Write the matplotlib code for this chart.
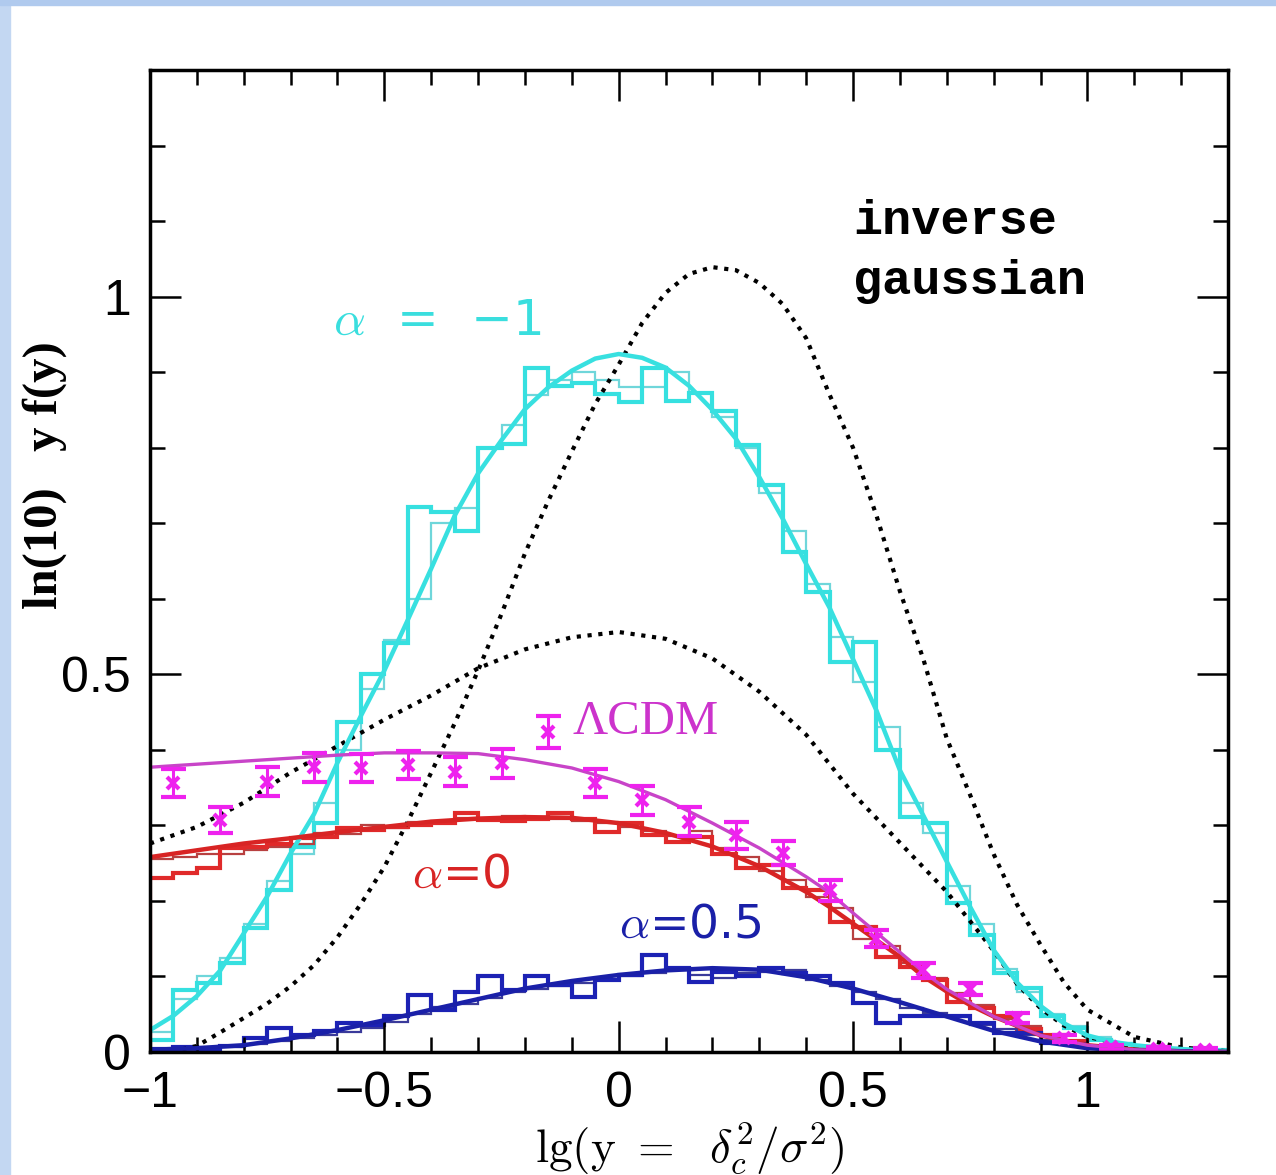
import numpy as np
import matplotlib
matplotlib.use("Agg")
import matplotlib.pyplot as plt
from matplotlib.patches import Rectangle
from matplotlib.ticker import MultipleLocator

plt.rcParams['mathtext.fontset'] = 'cm'

# histogram bins (0.05 wide) from -1 to 1.3
bin_edges = np.round(np.arange(-1.0, 1.3001, 0.05), 3)

# alpha = -1 (cyan)
cyan_thick = [0.016, 0.082, 0.091, 0.118, 0.164, 0.214, 0.271, 0.303, 0.437, 0.50,
              0.541, 0.721, 0.715, 0.690, 0.799, 0.805, 0.906, 0.882, 0.885, 0.871,
              0.860, 0.906, 0.862, 0.872, 0.849, 0.803, 0.750, 0.662, 0.609, 0.516,
              0.543, 0.40, 0.311, 0.303, 0.197, 0.155, 0.104, 0.085, 0.047, 0.032,
              0.016, 0.010, 0.006, 0.004, 0.003, 0.002]
cyan_thin = [0.027, 0.07, 0.10, 0.125, 0.17, 0.226, 0.262, 0.33, 0.40, 0.48,
             0.545, 0.60, 0.70, 0.72, 0.80, 0.83, 0.87, 0.89, 0.90, 0.89,
             0.88, 0.88, 0.90, 0.872, 0.84, 0.80, 0.74, 0.69, 0.62, 0.55,
             0.49, 0.43, 0.33, 0.29, 0.22, 0.17, 0.11, 0.08, 0.05, 0.034,
             0.02, 0.012, 0.008, 0.005, 0.003, 0.002]
cyan_x = [-1.0, -0.95, -0.9, -0.85, -0.8, -0.75, -0.7, -0.65, -0.6, -0.55, -0.5, -0.45,
          -0.4, -0.35, -0.3, -0.25, -0.2, -0.15, -0.1, -0.05, 0.0, 0.05, 0.1, 0.15,
          0.2, 0.25, 0.3, 0.35, 0.4, 0.45, 0.5, 0.55, 0.6, 0.65, 0.7, 0.75, 0.8,
          0.85, 0.9, 0.95, 1.0, 1.05, 1.1, 1.15, 1.2, 1.25, 1.3]
cyan_y = [0.029, 0.048, 0.074, 0.108, 0.157, 0.206, 0.263, 0.315, 0.383, 0.445, 0.505, 0.572,
          0.64, 0.71, 0.766, 0.81, 0.851, 0.88, 0.902, 0.918, 0.924, 0.919, 0.906, 0.882,
          0.85, 0.812, 0.761, 0.706, 0.646, 0.588, 0.52, 0.452, 0.373, 0.313, 0.252, 0.192, 0.135,
          0.092, 0.061, 0.038, 0.022, 0.014, 0.009, 0.006, 0.004, 0.002, 0.001]

# alpha = 0 (red)
red_thick = [0.230, 0.237, 0.243, 0.270, 0.272, 0.276, 0.283, 0.285, 0.296, 0.294,
             0.298, 0.301, 0.303, 0.316, 0.307, 0.306, 0.309, 0.317, 0.309, 0.291,
             0.303, 0.287, 0.278, 0.285, 0.262, 0.243, 0.247, 0.217, 0.214, 0.172,
             0.165, 0.126, 0.113, 0.095, 0.066, 0.058, 0.047, 0.030, 0.022, 0.014,
             0.008, 0.004, 0.002, 0.001, 0.001, 0.0]
red_thin = [0.256, 0.258, 0.262, 0.262, 0.268, 0.272, 0.276, 0.290, 0.288, 0.300,
            0.296, 0.304, 0.306, 0.310, 0.308, 0.312, 0.311, 0.308, 0.306, 0.303,
            0.298, 0.293, 0.286, 0.292, 0.270, 0.258, 0.240, 0.228, 0.205, 0.190,
            0.150, 0.140, 0.118, 0.098, 0.078, 0.062, 0.044, 0.034, 0.020, 0.014,
            0.007, 0.004, 0.002, 0.001, 0.0, 0.0]
red_x = [-1.0, -0.9, -0.8, -0.7, -0.6, -0.5, -0.4, -0.3, -0.2, -0.1, 0.0, 0.1, 0.2,
         0.3, 0.4, 0.45, 0.5, 0.55, 0.6, 0.65, 0.7, 0.75, 0.8, 0.9, 1.0, 1.1, 1.2, 1.3]
red_y = [0.258, 0.267, 0.276, 0.283, 0.291, 0.298, 0.305, 0.309, 0.311, 0.310, 0.303, 0.29, 0.272,
         0.246, 0.212, 0.192, 0.17, 0.148, 0.126, 0.10, 0.08, 0.062, 0.047, 0.022, 0.009, 0.003, 0.001, 0.0]

# alpha = 0.5 (blue)
blue_thick = [0.004, 0.006, 0.004, 0.008, 0.018, 0.032, 0.022, 0.028, 0.038, 0.036,
              0.047, 0.075, 0.056, 0.080, 0.100, 0.082, 0.100, 0.089, 0.073, 0.095,
              0.102, 0.128, 0.111, 0.093, 0.106, 0.100, 0.111, 0.104, 0.100, 0.091,
              0.065, 0.038, 0.047, 0.047, 0.047, 0.038, 0.025, 0.025, 0.012, 0.010,
              0.005, 0.003, 0.002, 0.001, 0.001, 0.0]
blue_thin = [0.002, 0.003, 0.006, 0.007, 0.010, 0.014, 0.018, 0.022, 0.027, 0.032,
             0.040, 0.050, 0.060, 0.064, 0.072, 0.080, 0.084, 0.088, 0.092, 0.096,
             0.100, 0.104, 0.108, 0.102, 0.098, 0.104, 0.106, 0.108, 0.095, 0.088,
             0.080, 0.070, 0.058, 0.052, 0.046, 0.036, 0.030, 0.022, 0.016, 0.010,
             0.006, 0.003, 0.002, 0.001, 0.0, 0.0]
blue_x = [-1.0, -0.9, -0.8, -0.7, -0.6, -0.5, -0.4, -0.3, -0.2, -0.1, 0.0, 0.1, 0.2,
          0.3, 0.4, 0.5, 0.6, 0.7, 0.8, 0.9, 1.0, 1.1, 1.2, 1.3]
blue_y = [0.003, 0.005, 0.009, 0.018, 0.029, 0.042, 0.056, 0.070, 0.084, 0.094, 0.102, 0.108, 0.111,
          0.109, 0.099, 0.084, 0.066, 0.047, 0.028, 0.014, 0.005, 0.002, 0.001, 0.0]

# LambdaCDM (magenta)
lcdm_x = [-1.0, -0.9, -0.8, -0.7, -0.6, -0.5, -0.4, -0.3, -0.2, -0.1, 0.0, 0.1, 0.2, 0.3,
          0.4, 0.45, 0.5, 0.55, 0.6, 0.65, 0.7, 0.8, 0.9, 1.0, 1.1, 1.2, 1.3]
lcdm_y = [0.377, 0.381, 0.385, 0.389, 0.393, 0.396, 0.396, 0.395, 0.387, 0.376, 0.358, 0.334,
          0.303, 0.27, 0.232, 0.211, 0.184, 0.158, 0.132, 0.106, 0.083, 0.047, 0.022, 0.009,
          0.003, 0.001, 0.0]
pts_x = [-0.95, -0.85, -0.75, -0.65, -0.55, -0.45, -0.35, -0.25, -0.05, 0.05, 0.15,
         0.25, 0.35, 0.45, 0.55, 0.65, 0.75, 0.85, 0.95, 1.05, 1.15, 1.25]
pts_y = [0.356, 0.307, 0.358, 0.377, 0.376, 0.380, 0.371, 0.382, 0.356, 0.333, 0.305,
         0.287, 0.263, 0.214, 0.150, 0.108, 0.084, 0.045, 0.018, 0.006, 0.004, 0.003]
pts_err = [0.018, 0.017, 0.019, 0.019, 0.019, 0.019, 0.019, 0.019, 0.019, 0.019, 0.019,
           0.018, 0.016, 0.014, 0.011, 0.010, 0.008, 0.007, 0.005, 0.003, 0.002, 0.002]

# inverse gaussian (dotted)
ig1_x = [-1.0, -0.95, -0.9, -0.85, -0.8, -0.75, -0.7, -0.65, -0.6, -0.55, -0.5, -0.45, -0.4,
         -0.35, -0.3, -0.25, -0.2, -0.15, -0.1, -0.05, 0.0, 0.05, 0.1, 0.15, 0.2, 0.25, 0.3,
         0.35, 0.4, 0.45, 0.5, 0.55, 0.6, 0.65, 0.7, 0.75, 0.8, 0.85, 0.9, 0.95, 1.0, 1.1,
         1.2, 1.3]
ig1_y = [0.0, 0.001, 0.008, 0.026, 0.045, 0.064, 0.087, 0.115, 0.152, 0.196, 0.245, 0.305,
         0.37, 0.435, 0.505, 0.58, 0.66, 0.73, 0.795, 0.858, 0.91, 0.965, 1.005, 1.03, 1.039,
         1.035, 1.018, 0.99, 0.945, 0.87, 0.80, 0.71, 0.61, 0.52, 0.415, 0.34, 0.262, 0.195,
         0.142, 0.092, 0.056, 0.020, 0.006, 0.001]
ig2_x = [-1.0, -0.9, -0.8, -0.7, -0.6, -0.5, -0.4, -0.3, -0.2, -0.1, 0.0, 0.1, 0.2, 0.3,
         0.4, 0.5, 0.6, 0.7, 0.8, 0.85, 0.9, 0.95, 1.0, 1.1, 1.2, 1.3]
ig2_y = [0.276, 0.298, 0.33, 0.37, 0.405, 0.44, 0.472, 0.508, 0.533, 0.549, 0.556, 0.547,
         0.521, 0.477, 0.42, 0.342, 0.277, 0.212, 0.134, 0.09, 0.058, 0.035, 0.020, 0.007,
         0.002, 0.0]

x_ticks = [-1, -0.5, 0, 0.5, 1]
x_ticklabels = ['\u22121', '\u22120.5', '0', '0.5', '1']
y_ticks = [0, 0.5, 1]
y_ticklabels = ['0', '0.5', '1']

fig = plt.figure(figsize=(12.76, 11.75), dpi=100)
fig.patch.set_facecolor('white')
# light blue frame of the slide
fig.patches.append(Rectangle((0, 0), 10 / 1276, 1, transform=fig.transFigure,
                             color='#c3d7f2', zorder=0))
fig.patches.append(Rectangle((0, 1 - 5 / 1175), 1, 5 / 1175, transform=fig.transFigure,
                             color='#b0caee', zorder=0))

ax = fig.add_axes([150 / 1276, 1 - 1052 / 1175, 1078 / 1276, 982 / 1175])

ax.plot(ig1_x, ig1_y, color='black', ls=(0, (1, 1.6)), lw=3)
ax.plot(ig2_x, ig2_y, color='black', ls=(0, (1, 1.6)), lw=3)

ax.stairs(cyan_thin, bin_edges, color='#6fd6da', lw=1.6)
ax.stairs(cyan_thick, bin_edges, color='#36e0e0', lw=3)
ax.stairs(red_thin, bin_edges, color='#b84040', lw=1.6)
ax.stairs(red_thick, bin_edges, color='#e02a2a', lw=3)
ax.stairs(blue_thin, bin_edges, color='#3a3a9a', lw=1.6)
ax.stairs(blue_thick, bin_edges, color='#1c22b4', lw=3)

ax.plot(cyan_x, cyan_y, color='#38e0e0', lw=3.2)
ax.plot(red_x, red_y, color='#d82424', lw=3.2)
ax.plot(blue_x, blue_y, color='#1a20a8', lw=3.2)
ax.plot(lcdm_x, lcdm_y, color='#c844c8', lw=2.4)
ax.errorbar(pts_x, pts_y, yerr=pts_err, fmt='x', color='#ee22ee', ms=8, mew=3,
            elinewidth=2.2, capsize=9, capthick=2.2)
# legend symbol for LambdaCDM
ax.errorbar([-0.15], [0.424], yerr=[0.021], fmt='x', color='#ee22ee', ms=8, mew=3,
            elinewidth=2.2, capsize=9, capthick=2.2)

ax.text(-0.098, 0.437, '\u039bCDM', color='#cc33cc', fontsize=35,
        family='Liberation Serif', va='center', ha='left')
ax.text(-0.61, 0.968, '$\\alpha$  =  \u22121', color='#3adede', fontsize=36,
        family='DejaVu Sans', va='center', ha='left')
ax.text(-0.44, 0.234, '$\\alpha$=0', color='#d82424', fontsize=34,
        family='DejaVu Sans', va='center', ha='left')
ax.text(0.0, 0.168, '$\\alpha$=0.5', color='#1a20a8', fontsize=34,
        family='DejaVu Sans', va='center', ha='left')
ax.text(0.50, 1.10, 'inverse', color='black', fontsize=35, weight='bold',
        family='Liberation Mono', va='center', ha='left')
ax.text(0.50, 1.02, 'gaussian', color='black', fontsize=35, weight='bold',
        family='Liberation Mono', va='center', ha='left')

ax.set_xlim(-1, 1.3)
ax.set_ylim(0, 1.3)
ax.set_xticks(x_ticks)
ax.set_xticklabels(x_ticklabels)
ax.set_yticks(y_ticks)
ax.set_yticklabels(y_ticklabels)
ax.xaxis.set_minor_locator(MultipleLocator(0.1))
ax.yaxis.set_minor_locator(MultipleLocator(0.1))
ax.tick_params(which='both', direction='in', top=True, right=True, width=1.8)
ax.tick_params(which='major', length=22, labelsize=36, pad=14)
ax.tick_params(which='minor', length=11)
for lab in ax.get_xticklabels() + ax.get_yticklabels():
    lab.set_family('Liberation Sans')
for sp in ax.spines.values():
    sp.set_linewidth(2.5)

fig.text(690 / 1276, 1 - 1148 / 1175, r'$\mathrm{lg(y\ =\ \ }\delta_c^2/\sigma^2\mathrm{)}$',
         fontsize=34, ha='center', va='center')
fig.text(45 / 1276, 1 - 475 / 1175, 'ln(10)   y f(y)', family='Liberation Serif',
         weight='bold', fontsize=35, ha='center', va='center', rotation=90)

fig.savefig('out.png', dpi=100)
